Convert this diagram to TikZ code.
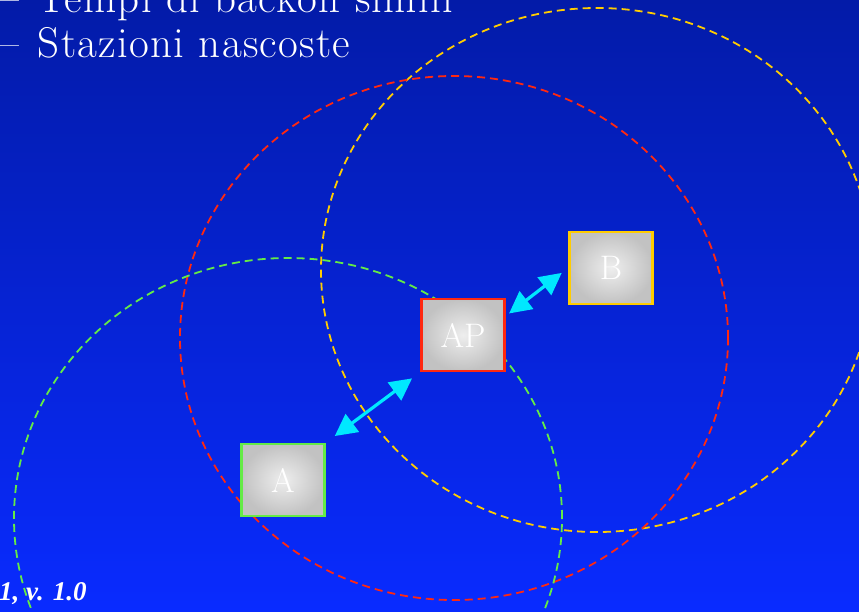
\documentclass[tikz,border=0pt]{standalone}
\usepackage{fontspec}
\newfontfamily\footfont{Liberation Serif}
\newfontfamily\bulletfont[LetterSpace=3,Ligatures=TeX]{Latin Modern Roman}
\usetikzlibrary{arrows.meta}
\definecolor{bgtop}{RGB}{3,27,168}
\definecolor{bgbot}{RGB}{9,43,255}
\definecolor{rangeY}{RGB}{255,204,0}
\definecolor{rangeR}{RGB}{255,40,16}
\definecolor{rangeG}{RGB}{100,235,70}
\definecolor{linkC}{RGB}{0,232,255}
\begin{document}
\begin{tikzpicture}[x=1pt, y=-1pt,
  cover/.style={dash pattern=on 8pt off 5pt, line width=1.8pt},
  bullet/.style={anchor=base west, text=white, inner sep=0pt, font=\bulletfont\fontsize{43}{46}\selectfont},
  station/.style={draw, line width=2.8pt, minimum width=83pt, minimum height=72pt,
    inner sep=0pt, inner color={rgb,255:red,238;green,238;blue,238},
    outer color={rgb,255:red,194;green,194;blue,194}, text=white,
    font=\fontsize{34}{36}\selectfont},
  link/.style={{Triangle[length=22pt,width=22pt]}-{Triangle[length=22pt,width=22pt]},
    linkC, line width=3.2pt}]

% background
\shade[top color=bgtop, bottom color=bgbot] (0,0) rectangle (859,611);
\useasboundingbox (0,0) rectangle (859,611);

% bullet lines
\node[bullet] (l1) at (-1,12) {\textendash\hspace{19pt}Tempi di backoff simili};
\node[bullet] (l2) at (-1,57) {\textendash\hspace{19pt}Stazioni nascoste};

% coverage ranges
\draw[cover, rangeY] (597,270) ellipse (276pt and 262pt);
\draw[cover, rangeR] (454,338) ellipse (274pt and 262pt);
\draw[cover, rangeG] (288,518) ellipse (274pt and 260pt);

% stations
\node[station, draw=rangeG] (A) at (283,480) {A};
\node[station, draw=rangeR] (AP) at (463,335) {AP};
\node[station, draw=rangeY] (B) at (611,268) {B};

\draw[link, shorten <=11pt, shorten >=10pt] (A.north east) -- (AP.south west);
\draw[link, shorten <=4pt, shorten >=8pt] (AP.24) -- (B.west);

% footer
\node[anchor=base west, text=white, inner sep=0pt, font=\footfont\bfseries\itshape\fontsize{27}{30}\selectfont] (foot) at (-1,600) {1, v. 1.0};
\end{tikzpicture}
\end{document}
